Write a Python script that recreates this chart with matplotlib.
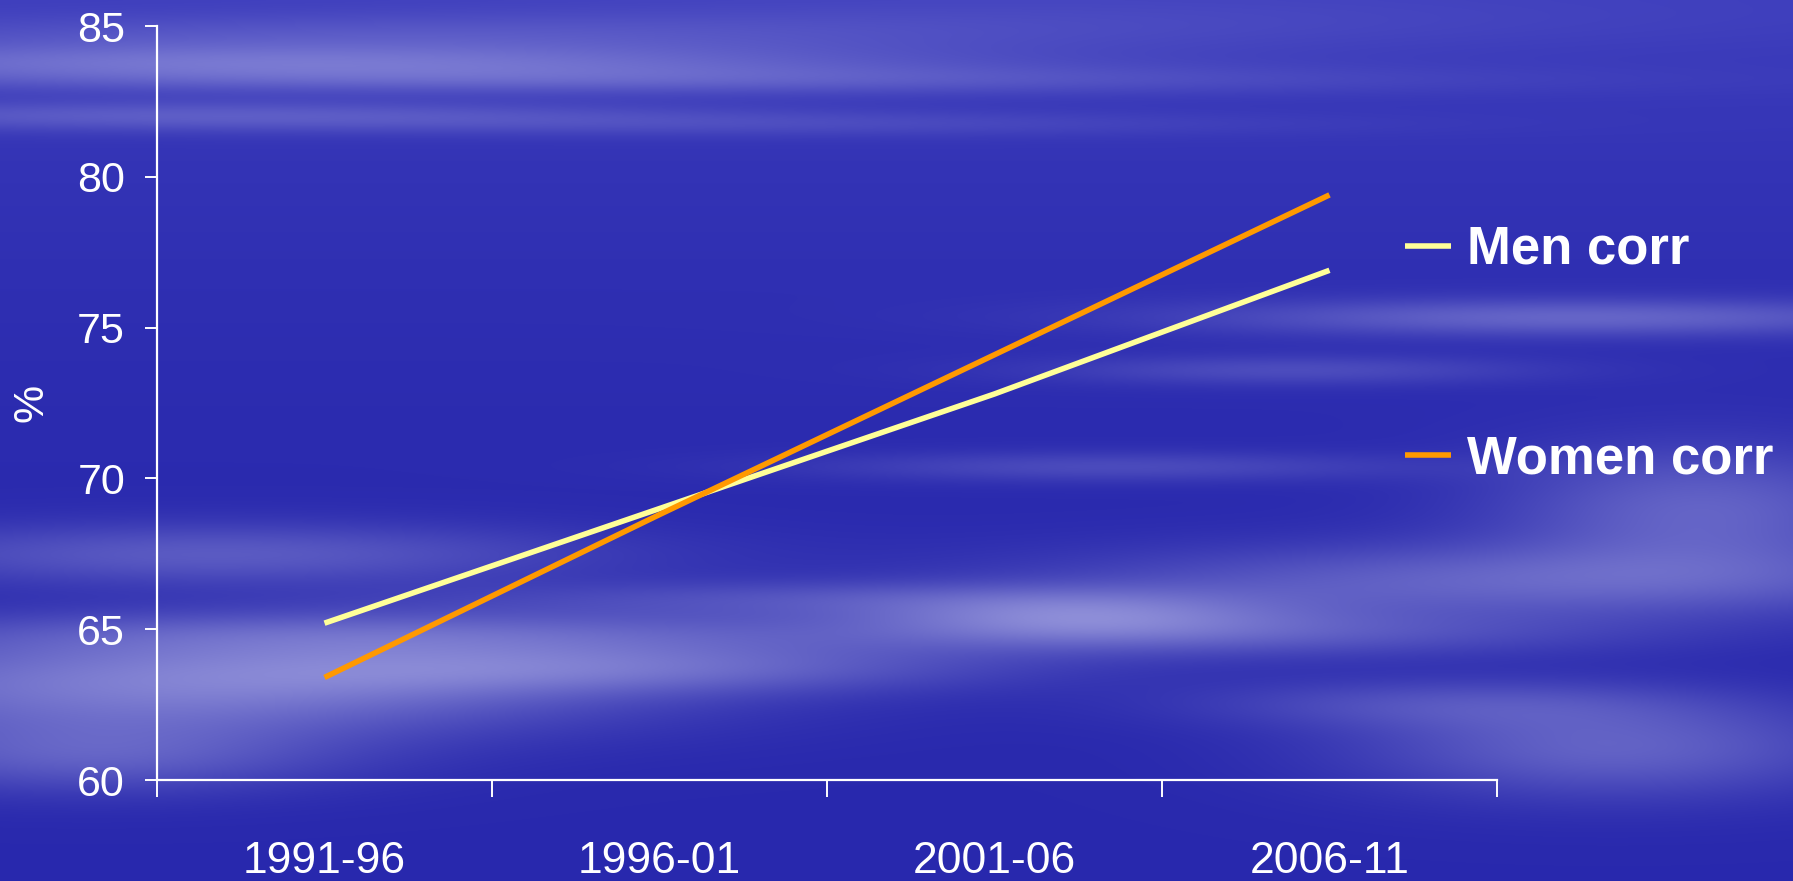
import numpy as np
import matplotlib
matplotlib.use("Agg")
import matplotlib.pyplot as plt

# ---- data ----
periods = ["1991-96", "1996-01", "2001-06", "2006-11"]
men_corr = [65.2, 69.0, 72.8, 76.9]
women_corr = [63.4, 68.8, 74.1, 79.4]
series_labels = ["Men corr", "Women corr"]
yticks = [60, 65, 70, 75, 80, 85]

men_color = "#FFFF99"
women_color = "#FF9900"

W, H = 1793, 881
fig = plt.figure(figsize=(W / 100, H / 100), dpi=100)

# ---- decorative background (blue sky with streaky clouds) ----
bg = fig.add_axes([0, 0, 1, 1], zorder=0)
bg.set_axis_off()
h, w = 300, 600
yy, xx = np.mgrid[0:h, 0:w]
fx = xx / (w - 1)
fy = yy / (h - 1)
alpha = np.zeros((h, w))
clouds = [
    (0.15, 0.07, 0.25, 0.015, 0.35), (0.35, 0.09, 0.30, 0.012, 0.22),
    (0.10, 0.13, 0.20, 0.012, 0.25), (0.20, 0.04, 0.25, 0.018, 0.18),
    (0.60, 0.02, 0.25, 0.025, 0.08), (0.45, 0.14, 0.20, 0.010, 0.12),
    (0.10, 0.78, 0.18, 0.040, 0.50), (0.25, 0.72, 0.20, 0.020, 0.30),
    (0.12, 0.63, 0.15, 0.025, 0.30), (0.35, 0.76, 0.15, 0.020, 0.30),
    (0.60, 0.70, 0.08, 0.020, 0.35), (0.45, 0.68, 0.15, 0.015, 0.20),
    (0.05, 0.86, 0.10, 0.030, 0.30), (0.88, 0.36, 0.15, 0.015, 0.35),
    (0.72, 0.42, 0.10, 0.012, 0.20), (0.62, 0.53, 0.12, 0.012, 0.20),
    (0.85, 0.66, 0.18, 0.030, 0.35), (0.70, 0.72, 0.15, 0.020, 0.25),
    (0.95, 0.58, 0.08, 0.050, 0.35), (0.90, 0.85, 0.10, 0.040, 0.35),
    (0.80, 0.80, 0.10, 0.020, 0.20),
]
for cx, cy, sx, sy, a in clouds:
    alpha += a * np.exp(-((fx - cx) ** 2) / (2 * sx ** 2) - ((fy - cy) ** 2) / (2 * sy ** 2))
alpha = np.clip(alpha, 0, 0.7)
top = np.array([0.24, 0.24, 0.74])
mid = np.array([0.16, 0.16, 0.68])
base = top[None, None, :] * (1 - fy[..., None]) ** 3 + mid[None, None, :] * (1 - (1 - fy[..., None]) ** 3)
cloud = np.array([0.80, 0.80, 0.95])
img = base * (1 - alpha[..., None]) + cloud[None, None, :] * alpha[..., None]
bg.imshow(img, extent=[0, 1, 0, 1], aspect="auto", interpolation="bicubic", origin="upper")
bg.set_xlim(0, 1)
bg.set_ylim(0, 1)

# ---- main chart ----
ax = fig.add_axes([157 / W, 1 - 780 / H, (1497 - 157) / W, (780 - 26) / H], zorder=1)
ax.patch.set_alpha(0)

x = np.arange(len(periods))
ax.plot(x, men_corr, color=men_color, lw=4.0, label=series_labels[0], solid_capstyle="butt")
ax.plot(x, women_corr, color=women_color, lw=4.0, label=series_labels[1], solid_capstyle="butt")

ax.set_xlim(-0.5, len(periods) - 0.5)
ax.set_ylim(60, 85)
ax.set_yticks(yticks)

tick_font = ["Liberation Sans", "DejaVu Sans"]
ax.set_yticklabels([str(t) for t in yticks], fontsize=31, color="white", family=tick_font)
ax.set_xticks(x)
ax.set_xticklabels(periods, fontsize=32, color="white", family=tick_font)
ax.set_xticks(np.arange(-0.5, len(periods), 1.0), minor=True)

ax.tick_params(axis="x", which="major", length=0, pad=44)
ax.tick_params(axis="x", which="minor", length=12, width=1.4, color="white", direction="out")
ax.tick_params(axis="y", which="major", length=9, width=1.4, color="white", direction="out", pad=14)

for s in ["top", "right"]:
    ax.spines[s].set_visible(False)
for s in ["left", "bottom"]:
    ax.spines[s].set_color("white")
    ax.spines[s].set_linewidth(1.6)

fig.text(32 / W, 1 - 403 / H, "%", rotation=90, ha="center", va="center",
         fontsize=31, color="white", family=tick_font)

leg = ax.legend(loc="upper left", bbox_to_anchor=(1405 / W, 1 - 225 / H),
                bbox_transform=fig.transFigure, frameon=False,
                prop={"family": tick_font, "weight": "bold", "size": 38},
                handlelength=0.87, handletextpad=0.3, labelspacing=3.02,
                borderpad=0, borderaxespad=0)
for t in leg.get_texts():
    t.set_color("white")

fig.savefig("out.png", dpi=100, facecolor="#2A2AAE")
